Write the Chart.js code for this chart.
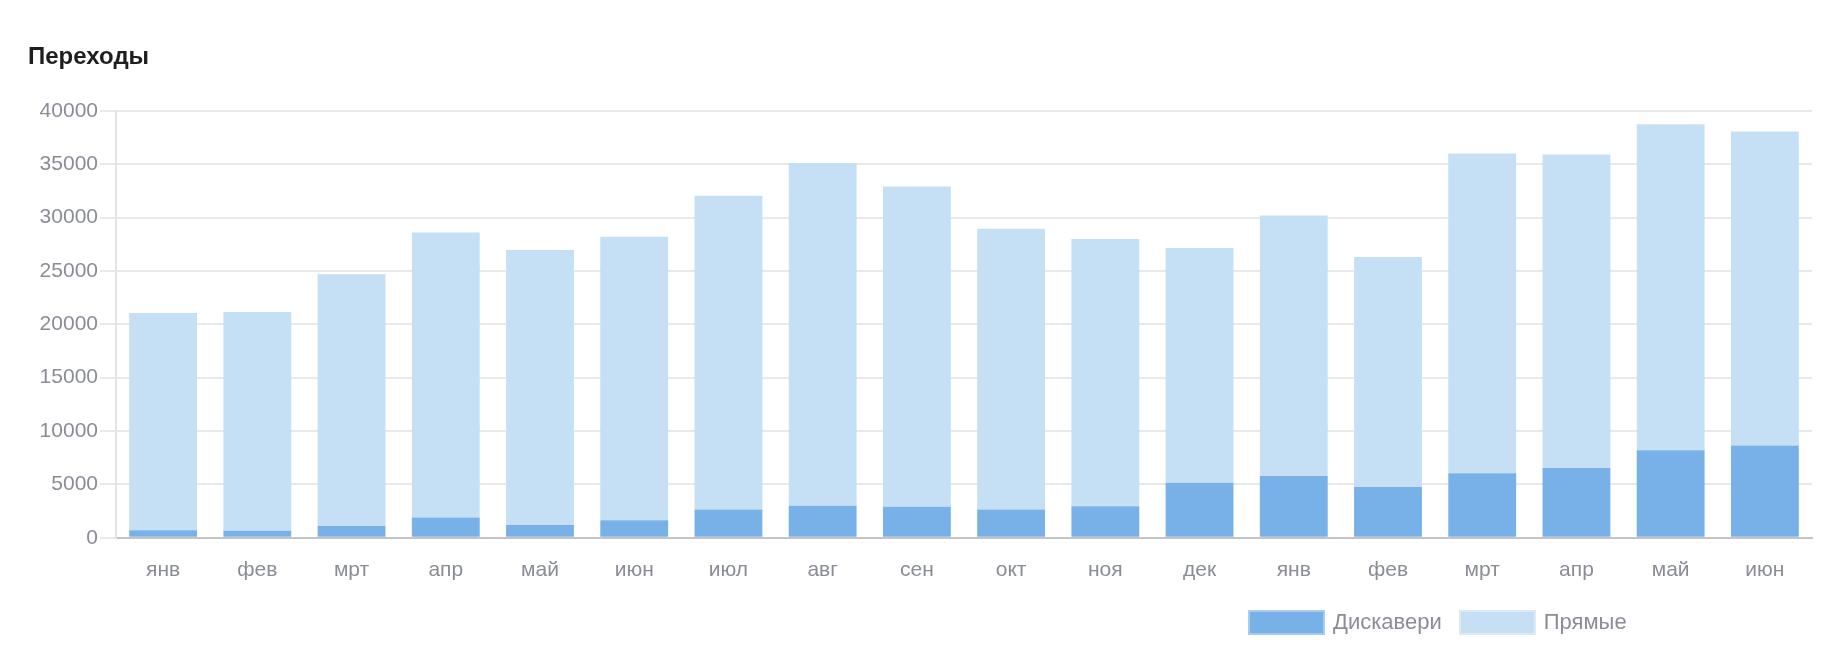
<!DOCTYPE html>
<html>
<head>
<meta charset="utf-8">
<script src="https://cdn.jsdelivr.net/npm/chart.js@4.4.1/dist/chart.umd.min.js"></script>
<style>
  body { margin: 0; background: #fff; }
  #wrap { position: relative; width: 1836px; height: 660px; }
  #legend {
    position: absolute; left: 1248px; top: 609px;
    display: flex; align-items: center;
    font: 22px "Liberation Sans", Arial, sans-serif; color: #8a8d96;
  }
  #legend .box { width: 73px; height: 21px; margin-right: 8px; border: 2px solid; }
  #legend .txt { margin-right: 17px; }
</style>
</head>
<body>
<div id="wrap">
  <canvas id="transitionsChart" width="1836" height="660"></canvas>
  <div id="legend"></div>
</div>
<script>
const months = ["янв", "фев", "мрт", "апр", "май", "июн", "июл", "авг", "сен",
  "окт", "ноя", "дек", "янв", "фев", "мрт", "апр", "май", "июн"];

const discovery = [700, 650, 1100, 1900, 1200, 1650, 2650, 3000, 2900,
  2650, 2950, 5150, 5800, 4750, 6050, 6550, 8200, 8650];

const direct = [20350, 20500, 23600, 26700, 25750, 26550, 29400, 32100, 30000,
  26300, 25050, 22000, 24400, 21550, 29950, 29350, 30550, 29400];

const yTicks = [0, 5000, 10000, 15000, 20000, 25000, 30000, 35000, 40000];

const tickFont = { family: "'Liberation Sans', Arial, sans-serif", size: 21 };
const tickColor = "#8a8d96";

const ctx = document.getElementById("transitionsChart").getContext("2d");

const chart = new Chart(ctx, {
  type: "bar",
  data: {
    labels: months,
    datasets: [
      {
        label: "Дискавери",
        data: discovery,
        backgroundColor: "#78b1e8",
        legendBorder: "#a6ccf0",
      },
      {
        label: "Прямые",
        data: direct,
        backgroundColor: "#c5dff5",
        legendBorder: "#dde9f5",
      },
    ],
  },
  options: {
    responsive: false,
    animation: false,
    layout: { padding: { left: 28, right: 24, top: 43, bottom: 57 } },
    categoryPercentage: 0.72,
    barPercentage: 1,
    plugins: {
      legend: { display: false },
      tooltip: { enabled: false },
      title: {
        display: true,
        text: "Переходы",
        align: "start",
        color: "#1e1e1e",
        font: { family: "'Liberation Sans', Arial, sans-serif", size: 24, weight: "bold" },
        padding: { top: 0, bottom: 39 },
      },
    },
    scales: {
      x: {
        stacked: true,
        grid: { display: false, drawTicks: false },
        border: { display: true, color: "#c4c4c4", width: 2 },
        ticks: { color: tickColor, font: tickFont, padding: 20, maxRotation: 0 },
      },
      y: {
        stacked: true,
        min: 0,
        max: 40000,
        afterFit: (scale) => { scale.width = 88; },
        afterBuildTicks: (scale) => { scale.ticks = yTicks.map((v) => ({ value: v })); },
        grid: { color: "#e9e9e9", lineWidth: 2, tickLength: 16 },
        border: { display: true, color: "#e4e4e4", width: 2 },
        ticks: {
          color: tickColor,
          font: tickFont,
          padding: 2,
          callback: (value) => String(value),
        },
      },
    },
  },
});

// html legend, built from the datasets
const legend = document.getElementById("legend");
chart.data.datasets.forEach((ds) => {
  const box = document.createElement("span");
  box.className = "box";
  box.style.background = ds.backgroundColor;
  box.style.borderColor = ds.legendBorder;
  const txt = document.createElement("span");
  txt.className = "txt";
  txt.textContent = ds.label;
  legend.appendChild(box);
  legend.appendChild(txt);
});
</script>
</body>
</html>
